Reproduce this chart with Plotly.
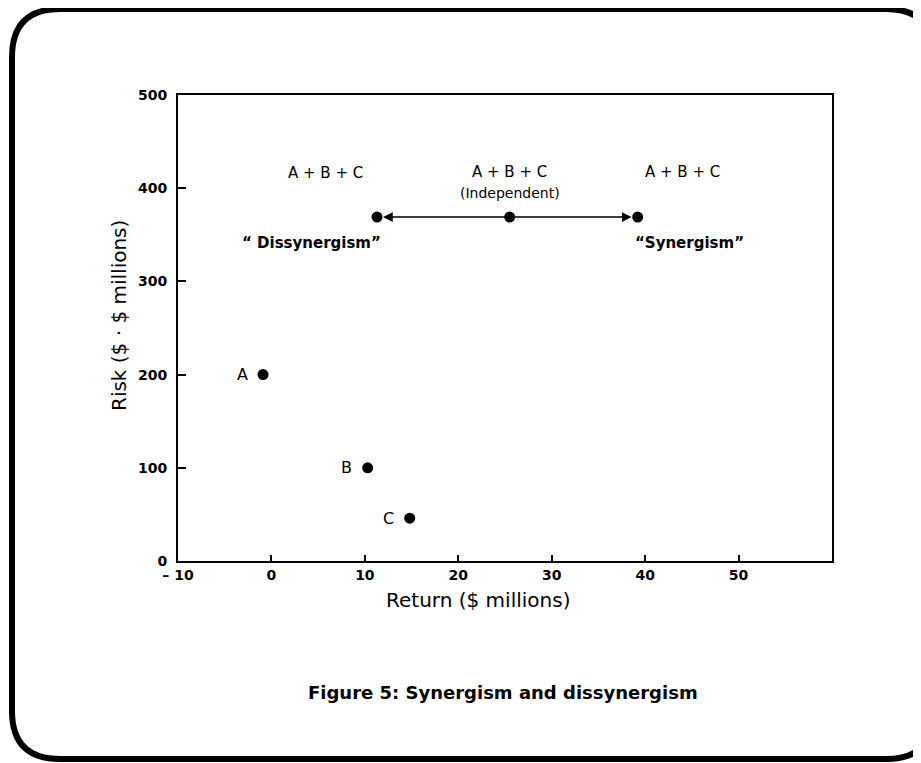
import plotly.graph_objects as go

# ---- data ----
business_labels = ["A", "B", "C"]
business_return = [-0.9, 10.3, 14.8]
business_risk = [200, 100, 46]

combo_labels = ["Dissynergism", "Independent", "Synergism"]
combo_return = [11.3, 25.5, 39.2]
combo_risk = [369, 369, 369]

x_tickvals = [-10, 0, 10, 20, 30, 40, 50]
x_ticktext = ["– 10", "0", "10", "20", "30", "40", "50"]
y_tickvals = [0, 100, 200, 300, 400, 500]
y_ticktext = ["0", "100", "200", "300", "400", "500"]

BODY = 8  # page body margin in the browser
W, H = 921 - BODY, 763 - BODY
ML, MT = 178 - BODY, 95 - BODY
PW, PH = 654, 466
MR, MB = W - ML - PW, H - MT - PH
FONT = "DejaVu Sans"


def px2paper(px, py):
    """screen pixel -> paper coordinates"""
    fx, fy = px - BODY, py - BODY
    return (fx - ML) / PW, (MT + PH - fy) / PH


fig = go.Figure()

fig.add_trace(go.Scatter(
    x=business_return, y=business_risk, mode="markers",
    marker=dict(size=11, color="black"), showlegend=False, hoverinfo="skip"))

fig.add_trace(go.Scatter(
    x=combo_return, y=combo_risk, mode="markers",
    marker=dict(size=11, color="black"), showlegend=False, hoverinfo="skip"))

annotations = []
for lab, xv, yv in zip(business_labels, business_return, business_risk):
    annotations.append(dict(x=xv, y=yv, text=lab, showarrow=False, xshift=-21,
                            xanchor="center", yanchor="middle",
                            font=dict(family=FONT, size=16, color="black")))

# arrows from independent point to synergism / dissynergism
for tip in (combo_return[0], combo_return[2]):
    annotations.append(dict(
        x=tip, y=combo_risk[0], ax=combo_return[1], ay=combo_risk[1],
        xref="x", yref="y", axref="x", ayref="y", text="", showarrow=True,
        arrowhead=2, arrowsize=1.3, arrowwidth=1.5, arrowcolor="black", standoff=6))

txt = dict(family=FONT, size=15, color="black")
annotations += [
    dict(x=5.8, y=416, text="A + B + C", showarrow=False, font=txt),
    dict(x=combo_return[1], y=417, text="A + B + C", showarrow=False, font=txt),
    dict(x=combo_return[1], y=395, text="(Independent)", showarrow=False,
         font=dict(family=FONT, size=14, color="black")),
    dict(x=44.0, y=417, text="A + B + C", showarrow=False, font=txt),
    dict(x=4.3, y=341, text="<b>“ Dissynergism”</b>", showarrow=False,
         font=dict(family=FONT, size=15, color="black")),
    dict(x=44.7, y=341, text="<b>“Synergism”</b>", showarrow=False,
         font=dict(family=FONT, size=15, color="black")),
]

bx, by = px2paper(478, 600)
annotations.append(dict(x=bx, y=by, xref="paper", yref="paper", text="Return ($ millions)",
                        xanchor="center", yanchor="middle",
                        showarrow=False, font=dict(family=FONT, size=20, color="black")))
lx, ly = px2paper(119, 316)
annotations.append(dict(x=lx, y=ly, xref="paper", yref="paper", text="Risk ($ · $ millions)",
                        xanchor="center", yanchor="middle",
                        textangle=-90, showarrow=False,
                        font=dict(family=FONT, size=20, color="black")))
cx, cy = px2paper(503, 692)
annotations.append(dict(x=cx, y=cy, xref="paper", yref="paper",
                        text="<b>Figure 5: Synergism and dissynergism</b>",
                        xanchor="center", yanchor="middle",
                        showarrow=False, font=dict(family=FONT, size=18, color="black")))

# rounded frame around the whole figure
x0, y0, x1, y1, r = 12, 9, 934, 759, 48
pts = {
    "a": px2paper(x0 + r, y0), "b": px2paper(x1 - r, y0), "c": px2paper(x1, y0),
    "d": px2paper(x1, y0 + r), "e": px2paper(x1, y1 - r), "f": px2paper(x1, y1),
    "g": px2paper(x1 - r, y1), "h": px2paper(x0 + r, y1), "i": px2paper(x0, y1),
    "j": px2paper(x0, y1 - r), "k": px2paper(x0, y0 + r), "l": px2paper(x0, y0),
}
p = lambda k: f"{pts[k][0]:.5f},{pts[k][1]:.5f}"
path = (f"M {p('a')} L {p('b')} Q {p('c')} {p('d')} L {p('e')} Q {p('f')} {p('g')} "
        f"L {p('h')} Q {p('i')} {p('j')} L {p('k')} Q {p('l')} {p('a')} Z")

fig.update_layout(
    width=W, height=H, margin=dict(l=ML, r=MR, t=MT, b=MB),
    paper_bgcolor="white", plot_bgcolor="white",
    annotations=annotations,
    shapes=[dict(type="path", path=path, xref="paper", yref="paper",
                 line=dict(color="black", width=6))],
    xaxis=dict(range=[-10, 60], tickvals=x_tickvals, ticktext=x_ticktext,
               showgrid=False, zeroline=False, showline=True, mirror=True,
               linecolor="black", linewidth=2, ticks="inside", ticklen=6,
               tickcolor="black", tickwidth=2,
               tickfont=dict(family=FONT, size=14, color="black", weight="bold")),
    yaxis=dict(range=[0, 500], tickvals=y_tickvals, ticktext=y_ticktext,
               showgrid=False, zeroline=False, showline=True, mirror=True,
               linecolor="black", linewidth=2, ticks="inside", ticklen=8,
               tickcolor="black", tickwidth=2, ticklabelstandoff=6,
               tickfont=dict(family=FONT, size=14, color="black", weight="bold")),
)

fig.write_html("out.html")
